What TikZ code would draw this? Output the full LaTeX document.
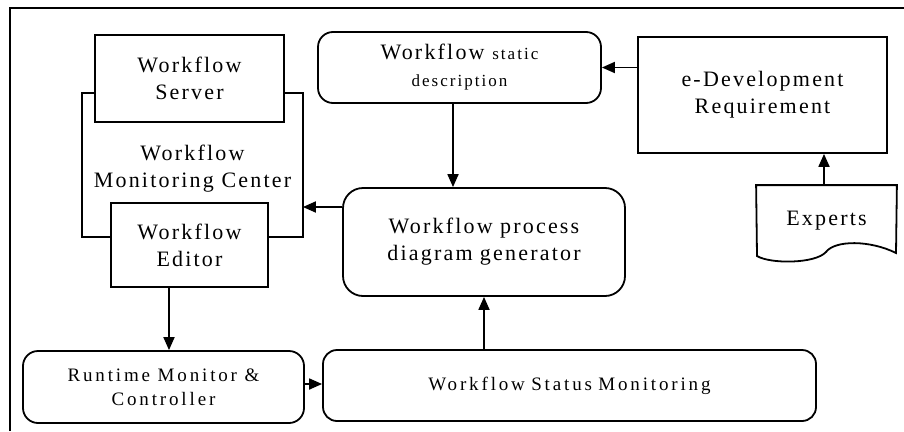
\documentclass[tikz,border=0pt]{standalone}
\usepackage{fontspec}
\setmainfont[LetterSpace=10]{Liberation Serif}
\usetikzlibrary{arrows.meta}
\newcommand{\bigf}{\fontsize{22}{27}\selectfont}
\newcommand{\midf}{\fontsize{19}{24}\selectfont\addfontfeature{LetterSpace=15}}
\newcommand{\smallf}{\fontsize{17}{23}\selectfont\addfontfeature{LetterSpace=12}}
\begin{document}
\begin{tikzpicture}[x=1pt,y=-1pt,
  line width=1.8pt,
  box/.style={draw,rectangle,inner sep=0pt,align=center,font=\bigf},
  rbox/.style={box,rounded corners=#1},
  arr/.style={-{Triangle[length=13pt,width=11pt]}},
  lbl/.style={inner sep=0pt,align=center,font=\bigf}]
\useasboundingbox (0,0) rectangle (904,431);
\fill[white] (0,0) rectangle (904,431);
% outer frame (partially visible)
\coordinate (fbl) at (10,431);
\coordinate (ftl) at (10,8);
\coordinate (ftr) at (904,8);
\draw (fbl) -- (ftl) -- (ftr);
% nodes
\node[box,minimum width=189pt,minimum height=87pt] (server) at (189.5,78.5) {Workflow\\Server};
\node[box,minimum width=157pt,minimum height=84pt,fill=white] (editor) at (189.5,245) {Workflow\\Editor};
\node[draw=none,inner sep=0pt,minimum width=219pt,minimum height=142pt] (mcbox) at (192.5,165) {};
\node[lbl] (mc) at (192.5,169) {Workflow\\Monitoring Center};
\node[rbox=15pt,minimum width=283pt,minimum height=71pt] (static) at (459.5,67.5) {Workflow {\smallf static}\\{\smallf description}};
\node[box,minimum width=249pt,minimum height=116pt] (edev) at (762.5,95) {e-Development\\Requirement};
\node[rbox=20pt,minimum width=282pt,minimum height=108pt] (gen) at (484,242) {Workflow\,\,process\\diagram\,\,generator};
\node[rbox=15pt,minimum width=281pt,minimum height=72pt,font=\midf] (runtime) at (163.5,387) {Runtime Monitor \&\\Controller};
\node[rbox=14pt,minimum width=493pt,minimum height=71pt,font=\midf] (status) at (569.5,385.5) {Workflow\,\,Status\,\,Monitoring};
\node[inner sep=0pt,minimum width=139pt,minimum height=70pt,font=\bigf] (experts) at (826.5,221) {Experts};
% experts document shape
\draw (experts.north west) -- (experts.north east) -- (896,253)
  .. controls (870,240) and (835,240) .. (826,252)
  .. controls (815,264) and (770,264) .. (757,256) -- cycle;
% monitoring center bracket
\draw (server.west |- mcbox.north) -- (mcbox.north west) -- (mcbox.south west) -- (editor.west |- mcbox.south);
\draw (server.east |- mcbox.north) -- (mcbox.north east) -- (mcbox.south east) -- (editor.east |- mcbox.south);
% connectors
\draw[arr] (edev.west |- static.east) -- (static.east);
\draw[arr] (experts.north -| 824,0) -- (edev.south -| 824,0);
\draw[arr] (static.south -| 453,0) -- (gen.north -| 453,0);
\draw[arr] (gen.west |- 0,207) -- (mcbox.east |- 0,207);
\draw[arr] (status.north -| gen.south) -- (gen.south);
\draw[arr] (editor.south -| 169,0) -- (runtime.north -| 169,0);
\draw[arr] (runtime.east |- 0,384) -- (status.west |- 0,384);
\end{tikzpicture}
\end{document}
